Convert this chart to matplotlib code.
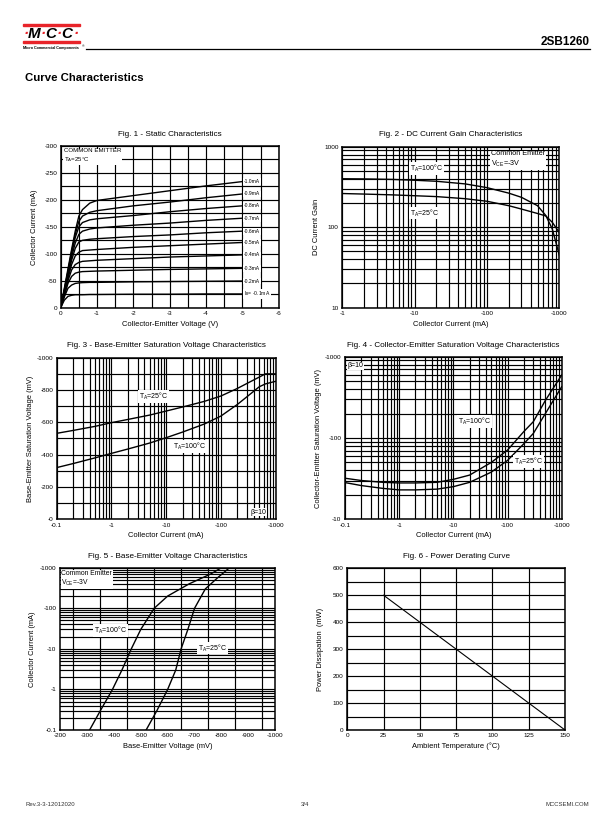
import matplotlib as mpl
import matplotlib.pyplot as plt
from matplotlib.patches import Rectangle
from matplotlib.lines import Line2D
from matplotlib.ticker import LogLocator, MultipleLocator, FixedLocator, NullFormatter

mpl.rcParams['font.family'] = ['Liberation Sans', 'DejaVu Sans']
mpl.rcParams['axes.unicode_minus'] = False
mpl.rcParams['mathtext.fontset'] = 'custom'
mpl.rcParams['mathtext.rm'] = 'Liberation Sans'
mpl.rcParams['mathtext.it'] = 'Liberation Sans:italic'

# ----- Data (magnitudes) -----
# Fig 1 - static characteristics: Vce (V) vs Ic (mA), one curve per Ib
vce = [0, 0.1, 0.2, 0.3, 0.4, 0.5, 0.6, 0.8, 1.0, 2, 3, 4, 5]
ib_labels = ["-1.0mA", "-0.9mA", "-0.8mA", "-0.7mA", "-0.6mA",
             "-0.5mA", "-0.4mA", "-0.3mA", "-0.2mA", "I$_{\\mathrm{B}}$= -0.1mA"]
ic_ib10 = [0, 36, 72, 108, 142, 170, 182, 194, 199, 208, 217, 226, 234]
ic_ib09 = [0, 34, 68, 104, 136, 160, 170, 177, 180, 189, 196, 204, 211]
ic_ib08 = [0, 32, 66, 100, 130, 150, 158, 163, 165, 171, 178, 184, 189]
ic_ib07 = [0, 30, 62, 94, 120, 136, 142, 146, 148, 153, 157, 162, 166]
ic_ib06 = [0, 28, 58, 88, 110, 122, 125, 127, 128, 132, 135, 139, 142]
ic_ib05 = [0, 26, 54, 80, 96, 103, 106, 107, 108, 112, 115, 118, 121]
ic_ib04 = [0, 24, 50, 70, 80, 84, 86, 87, 88, 91, 94, 96, 98]
ic_ib03 = [0, 22, 45, 58, 64, 66, 67, 67.5, 68, 69.5, 71, 72, 73]
ic_ib02 = [0, 20, 36, 42, 45, 46, 46.5, 47, 47, 48, 48.5, 49, 49.5]
ic_ib01 = [0, 14, 21, 23, 24, 24, 24, 24.5, 24.5, 25, 25, 25.5, 25.5]

# Fig 2 - DC current gain
ic2 = [1, 2, 5, 10, 20, 50, 100, 200, 300, 500, 650, 800, 1000]
hfe_100 = [400, 398, 392, 383, 372, 345, 310, 265, 235, 185, 140, 95, 45]
hfe_25 = [262, 258, 252, 246, 240, 226, 210, 185, 168, 148, 138, 115, 86]

# Fig 3 - base-emitter saturation voltage (mV)
ic3 = [0.1, 0.2, 0.5, 1, 2, 5, 10, 20, 50, 100, 200, 300, 500, 650, 1000]
vbesat_25 = [532, 550, 575, 598, 618, 645, 670, 695, 730, 763, 810, 841, 880, 900, 900]
vbesat_100 = [320, 345, 380, 408, 435, 472, 505, 540, 590, 639, 711, 759, 820, 838, 854]

# Fig 4 - collector-emitter saturation voltage (mV)
ic4 = [0.1, 0.2, 0.5, 1, 2, 5, 10, 20, 50, 100, 200, 300, 500, 1000]
vcesat_100 = [32, 30, 28.5, 28, 28, 28.5, 31, 35, 50, 71, 120, 159, 290, 595]
vcesat_25 = [28.3, 26, 24, 23, 23, 23.5, 25.2, 28.5, 38, 53, 85, 114, 200, 427]

# Fig 5 - base-emitter voltage (mV) vs collector current (mA)
ic5_100 = [0.1, 0.3, 1, 3, 10, 30, 100, 200, 400, 700, 1000]
vbe_100 = [310, 350, 395, 430, 465, 500, 550, 600, 680, 760, 800]
ic5_25 = [0.1, 0.3, 1, 3, 10, 30, 100, 300, 600, 1000]
vbe_25 = [520, 560, 600, 630, 650, 675, 700, 740, 790, 830]

# Fig 6 - power derating
temp = [25, 150]
pd = [500, 0]

# ----- Layout helpers (page pixel coordinates) -----
W, H = 612, 825
fig = plt.figure(figsize=(W / 100, H / 100), dpi=100)


def fx(x):
    return x / W


def fy(y):
    return 1 - y / H


def panel(l, t, r, b):
    ax = fig.add_axes([fx(l), fy(b), (r - l) / W, (b - t) / H])
    for s in ax.spines.values():
        s.set_linewidth(1.1)
        s.set_zorder(5)
    ax.tick_params(which='both', length=0, labelsize=4.6, pad=2.5)
    ax.set_axisbelow(True)
    return ax


def gridon(ax, which='both', axis='both'):
    ax.grid(True, which=which, axis=axis, color='black', linewidth=0.85)


def tag(ax, x, y, s, **kw):
    kw.setdefault('fontsize', 5)
    ax.text(x, y, s, zorder=6,
            bbox=dict(facecolor='white', edgecolor='none', pad=0.6), **kw)


def logminor(axis):
    axis.set_minor_locator(LogLocator(base=10, subs=range(2, 10)))
    axis.set_minor_formatter(NullFormatter())


lc = dict(color='black', linewidth=1.0, zorder=4)
ta = 'T$_{\\mathrm{A}}$'

# ----- Fig 1 -----
ax1 = panel(60.7, 146, 278.7, 307.7)
curves1 = [ic_ib10, ic_ib09, ic_ib08, ic_ib07, ic_ib06,
           ic_ib05, ic_ib04, ic_ib03, ic_ib02, ic_ib01]
for ic, lab in zip(curves1, ib_labels):
    ax1.plot(vce, ic, **lc)
    tag(ax1, 5.05, ic[-1], lab, fontsize=3.6, va='center', ha='left')
ax1.set_xlim(0, 6)
ax1.set_ylim(0, 300)
ax1.set_xticks(range(7))
ax1.set_xticklabels(['0'] + ['-%d' % v for v in range(1, 7)])
ax1.set_yticks(range(0, 301, 50))
ax1.set_yticklabels(['0'] + ['-%d' % v for v in range(50, 301, 50)])
ax1.xaxis.set_minor_locator(MultipleLocator(0.5))
ax1.yaxis.set_minor_locator(MultipleLocator(25))
gridon(ax1)
tag(ax1, 0.08, 296, 'COMMON EMITTER\n' + ta + '=25°C', fontsize=4.4,
    va='top', ha='left', linespacing=1.3)

# ----- Fig 2 -----
ax2 = panel(342.3, 146.7, 559.3, 307.7)
ax2.loglog(ic2, hfe_100, **lc)
ax2.loglog(ic2, hfe_25, **lc)
ax2.set_xlim(1, 1000)
ax2.set_ylim(10, 1000)
ax2.set_xticks([1, 10, 100, 1000])
ax2.set_xticklabels(['-1', '-10', '-100', '-1000'])
ax2.set_yticks([10, 100, 1000])
ax2.set_yticklabels(['10', '100', '1000'])
logminor(ax2.xaxis)
logminor(ax2.yaxis)
gridon(ax2)
tag(ax2, 8.5, 540, ta + '=100°C', va='center', ha='left')
tag(ax2, 8.5, 150, ta + '=25°C', va='center', ha='left')
tag(ax2, 112, 900, 'Common Emitter\nV$_{\\mathrm{CE}}$=-3V', fontsize=5.2,
    va='top', ha='left', linespacing=1.2)

# ----- Fig 3 -----
ax3 = panel(56.7, 357.7, 275.7, 519.3)
ax3.semilogx(ic3, vbesat_25, **lc)
ax3.semilogx(ic3, vbesat_100, **lc)
ax3.set_xlim(0.1, 1000)
ax3.set_ylim(0, 1000)
ax3.set_xticks([0.1, 1, 10, 100, 1000])
ax3.set_xticklabels(['-0.1', '-1', '-10', '-100', '-1000'])
ax3.set_yticks(range(0, 1001, 200))
ax3.set_yticklabels(['-%d' % v for v in range(0, 1001, 200)])
logminor(ax3.xaxis)
ax3.yaxis.set_minor_locator(MultipleLocator(100))
gridon(ax3)
tag(ax3, 3.2, 760, ta + '=25°C', va='center', ha='left')
tag(ax3, 13.5, 450, ta + '=100°C', va='center', ha='left')
tag(ax3, 350, 45, 'β=10', va='center', ha='left')

# ----- Fig 4 -----
ax4 = panel(345, 356.7, 561.7, 519.3)
ax4.loglog(ic4, vcesat_100, **lc)
ax4.loglog(ic4, vcesat_25, **lc)
ax4.set_xlim(0.1, 1000)
ax4.set_ylim(10, 1000)
ax4.set_xticks([0.1, 1, 10, 100, 1000])
ax4.set_xticklabels(['-0.1', '-1', '-10', '-100', '-1000'])
ax4.set_yticks([10, 100, 1000])
ax4.set_yticklabels(['-10', '-100', '-1000'])
logminor(ax4.xaxis)
logminor(ax4.yaxis)
gridon(ax4)
tag(ax4, 0.112, 770, 'β=10', va='center', ha='left')
tag(ax4, 12, 159, ta + '=100°C', va='center', ha='left')
tag(ax4, 130, 52, ta + '=25°C', va='center', ha='left')

# ----- Fig 5 -----
ax5 = panel(60, 567.7, 275.3, 730)
ax5.semilogy(vbe_100, ic5_100, **lc)
ax5.semilogy(vbe_25, ic5_25, **lc)
ax5.set_xlim(200, 1000)
ax5.set_ylim(0.1, 1000)
ax5.set_xticks(range(200, 1001, 100))
ax5.set_xticklabels(['-%d' % v for v in range(200, 1001, 100)])
ax5.xaxis.set_minor_locator(FixedLocator(range(250, 1000, 100)))
ax5.set_yticks([0.1, 1, 10, 100, 1000])
ax5.set_yticklabels(['-0.1', '-1', '-10', '-100', '-1000'])
logminor(ax5.yaxis)
gridon(ax5, which='both', axis='y')
gridon(ax5, which='minor', axis='x')
tag(ax5, 205, 900, 'Common Emitter\nV$_{\\mathrm{CE}}$=-3V', fontsize=4.9,
    va='top', ha='left', linespacing=1.2)
tag(ax5, 325, 29, ta + '=100°C', va='center', ha='left')
tag(ax5, 712, 10.5, ta + '=25°C', va='center', ha='left')

# ----- Fig 6 -----
ax6 = panel(347.3, 568.3, 565, 730)
ax6.plot(temp, pd, color='black', linewidth=0.8, zorder=4)
ax6.set_xlim(0, 150)
ax6.set_ylim(0, 600)
ax6.set_xticks(range(0, 151, 25))
ax6.set_yticks(range(0, 601, 100))
ax6.yaxis.set_minor_locator(MultipleLocator(50))
gridon(ax6)

# ----- Titles and axis labels -----
titles = [(169.7, 135, 'Fig. 1 - Static Characteristics'),
          (450.8, 135, 'Fig. 2 - DC Current Gain Characteristics'),
          (166.2, 345.5, 'Fig. 3 - Base-Emitter Saturation Voltage Characteristics'),
          (453.3, 345.5, 'Fig. 4 - Collector-Emitter Saturation Voltage Characteristics'),
          (167.6, 556.5, 'Fig. 5 - Base-Emitter Voltage Characteristics'),
          (456.1, 556.5, 'Fig. 6 - Power Derating Curve')]
for x, y, s in titles:
    fig.text(fx(x), fy(y), s, fontsize=5.9, ha='center', va='center')

xlabels = [(169.7, 324.5, 'Collector-Emitter Voltage (V)'),
           (450.8, 324.5, 'Collector Current (mA)'),
           (166.2, 535.5, 'Collector Current (mA)'),
           (453.3, 535.5, 'Collector Current (mA)'),
           (167.6, 746.5, 'Base-Emitter Voltage (mV)'),
           (456.1, 746.5, 'Ambient Temperature (°C)')]
for x, y, s in xlabels:
    fig.text(fx(x), fy(y), s, fontsize=5.4, ha='center', va='center')

ylabels = [(35, 227, 'Collector Current (mA)'),
           (316.5, 227, 'DC Current Gain'),
           (30, 438.5, 'Base-Emitter Saturation Voltage (mV)'),
           (318, 438, 'Collector-Emitter Saturation Voltage (mV)'),
           (32, 649, 'Collector Current (mA)'),
           (321, 649, 'Power Dissipation  (mW)')]
for x, y, s in ylabels:
    fig.text(fx(x), fy(y), s, fontsize=5.4, ha='center', va='center',
             rotation=90)

# ----- Page header -----
red = '#e8242a'
fig.patches.append(Rectangle((fx(22.7), fy(25.8)), (80 - 22.7) / W, 1.8 / H,
                             transform=fig.transFigure, color=red))
fig.patches.append(Rectangle((fx(22.7), fy(43.2)), (80 - 22.7) / W, 1.8 / H,
                             transform=fig.transFigure, color=red))
for x, s, c in [(26.5, '·', red), (34.5, 'M', 'black'), (43.5, '·', red),
                (51, 'C', 'black'), (59.5, '·', red), (67, 'C', 'black'),
                (76, '·', red)]:
    fig.text(fx(x), fy(34.5), s, color=c, fontsize=11, fontweight='bold',
             fontstyle='italic', ha='center', va='center')
fig.text(fx(22.7), fy(48.3), 'Micro Commercial Components', fontsize=2.7,
         fontweight='bold', ha='left', va='center')
fig.text(fx(81.5), fy(46.5), '®', fontsize=2.5, ha='left', va='center')
fig.lines.append(Line2D([fx(86), fx(590)], [fy(49), fy(49)],
                        transform=fig.transFigure, color='black', linewidth=0.9))
fig.text(fx(590), fy(42), '2SB1260', fontsize=8.5, fontweight='bold',
         ha='right', va='center')
fig.text(fx(25), fy(78), 'Curve Characteristics', fontsize=8.2,
         fontweight='bold', ha='left', va='center')

# ----- Page footer -----
fig.text(fx(25), fy(804), 'Rev.3-3-12012020', fontsize=4.3, color='#333333',
         ha='left', va='center')
fig.text(fx(305), fy(804), '3/4', fontsize=4.3, color='#333333',
         ha='center', va='center')
fig.text(fx(589), fy(804), 'MCCSEMI.COM', fontsize=4.3, color='#333333',
         ha='right', va='center')

fig.savefig('out.png', dpi=100)
